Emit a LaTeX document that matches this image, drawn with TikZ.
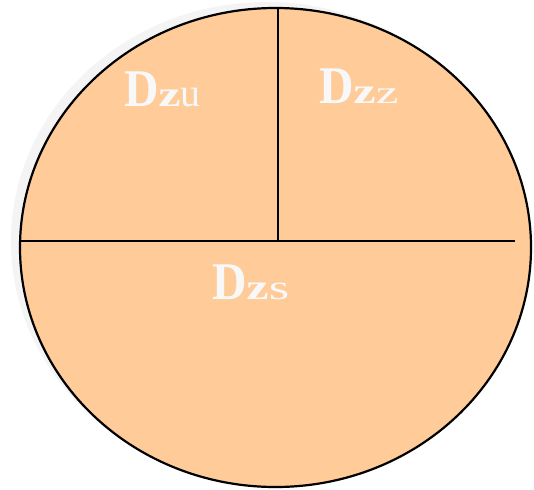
\documentclass[tikz,border=0pt]{standalone}
\usepackage{fontspec}
\setmainfont{Liberation Serif}
\usepackage{graphicx}
\definecolor{peach}{HTML}{FECB99}
\definecolor{shadowgray}{HTML}{F4F4F4}
\definecolor{labelwhite}{HTML}{F8F8F8}
\newcommand{\LD}{\scalebox{0.9}[1]{\fontsize{53}{53}\selectfont\bfseries D}}
\newcommand{\Lz}{\scalebox{1.4}[1]{\fontsize{36}{36}\selectfont\bfseries z}}
\newcommand{\Ls}[2]{\scalebox{#1}[1]{\fontsize{32}{32}\selectfont #2}}
\tikzset{
  lbl/.style={text=labelwhite, anchor=base west, inner sep=0pt, outer sep=0pt},
  divider/.style={draw=black, line width=2.2pt},
}
\begin{document}
\begin{tikzpicture}[x=1pt,y=-1pt]
\useasboundingbox (0,0) rectangle (534,489);
% shadow
\fill[shadowgray] (266.5,241.5) ellipse [x radius=255.5pt, y radius=239.5pt];
% main disc
\draw[fill=peach, line width=2.2pt] (275.5,247.5) ellipse [x radius=255.5pt, y radius=239.5pt];
% dividers
\coordinate (hl) at (20,241);
\coordinate (hr) at (515,241);
\coordinate (vt) at (278,8.5);
\coordinate (vb) at (278,241);
\draw[divider] (hl) -- (hr);
\draw[divider] (vt) -- (vb);
% labels
\node[lbl] (dzu) at (124,107) {\LD\Lz\Ls{1.0}{\fontsize{40}{40}\selectfont u}};
\node[lbl] (dzz) at (319,104) {\LD\Lz\Ls{1.6}{z}};
\node[lbl] (dzs) at (212,299) {\LD\Lz\Ls{1.5}{\fontsize{35}{35}\selectfont s}};
\end{tikzpicture}
\end{document}
